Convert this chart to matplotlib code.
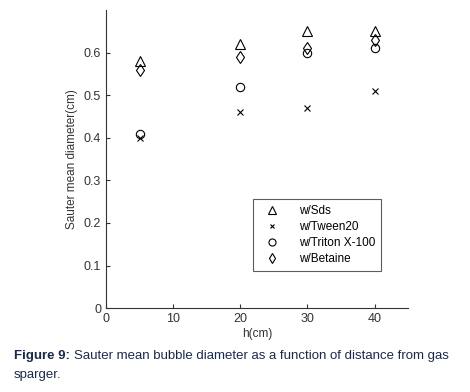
import matplotlib
matplotlib.use('Agg')
import matplotlib.pyplot as plt

plt.rcParams['font.family'] = ['Liberation Sans', 'DejaVu Sans']

h = [5, 20, 30, 40]
sds = [0.58, 0.62, 0.65, 0.65]
tween20 = [0.40, 0.46, 0.47, 0.51]
triton = [0.41, 0.52, 0.60, 0.61]
betaine = [0.56, 0.59, 0.61, 0.63]
labels = ['w/Sds', 'w/Tween20', 'w/Triton X-100', 'w/Betaine']
markers = ['^', 'x', 'o', 'd']

fig = plt.figure(figsize=(4.7, 3.92), dpi=100)
ax = fig.add_axes([0.2255, 0.214, 0.643, 0.76])

series = [sds, tween20, triton, betaine]
sizes = [7, 4, 6, 6]
for vals, lab, m, s in zip(series, labels, markers, sizes):
    ax.plot(h, vals, linestyle='none', marker=m, markersize=s,
            markerfacecolor='none', markeredgecolor='black',
            markeredgewidth=0.8, color='black', label=lab)

ax.set_xlim(0, 45)
ax.set_ylim(0, 0.7)
ax.set_xticks([0, 10, 20, 30, 40])
ax.set_yticks([0, 0.1, 0.2, 0.3, 0.4, 0.5, 0.6])
ax.set_yticklabels(['0', '0.1', '0.2', '0.3', '0.4', '0.5', '0.6'])
ax.tick_params(direction='in', length=3, labelsize=9, colors='#333333')
ax.spines['top'].set_visible(False)
ax.spines['right'].set_visible(False)
ax.spines['left'].set_color('#333333')
ax.spines['bottom'].set_color('#333333')
ax.set_xlabel('h(cm)', fontsize=8.5, color='#333333', labelpad=2)
ax.set_ylabel('Sauter mean diameter(cm)', fontsize=8.5, color='#333333', labelpad=4)

leg = ax.legend(loc='upper left', bbox_to_anchor=(0.467, 0.386), fontsize=8.5,
                frameon=True, fancybox=False, edgecolor='#333333',
                handletextpad=1.2, labelspacing=0.35, borderpad=0.5,
                handlelength=2.2, markerscale=0.85)
leg.get_frame().set_linewidth(0.8)

# caption: bold label followed by normal text
t1 = fig.text(0.03, 0.085, 'Figure 9:', fontsize=9.5, fontweight='bold', color='#1b2a4a')
fig.canvas.draw()
bb = t1.get_window_extent().transformed(fig.transFigure.inverted())
fig.text(bb.x1 + 0.008, 0.085, 'Sauter mean bubble diameter as a function of distance from gas',
         fontsize=9.5, color='#1b2a4a')
fig.text(0.03, 0.035, 'sparger.', fontsize=9.5, color='#1b2a4a')

fig.savefig('out.png', dpi=100)
